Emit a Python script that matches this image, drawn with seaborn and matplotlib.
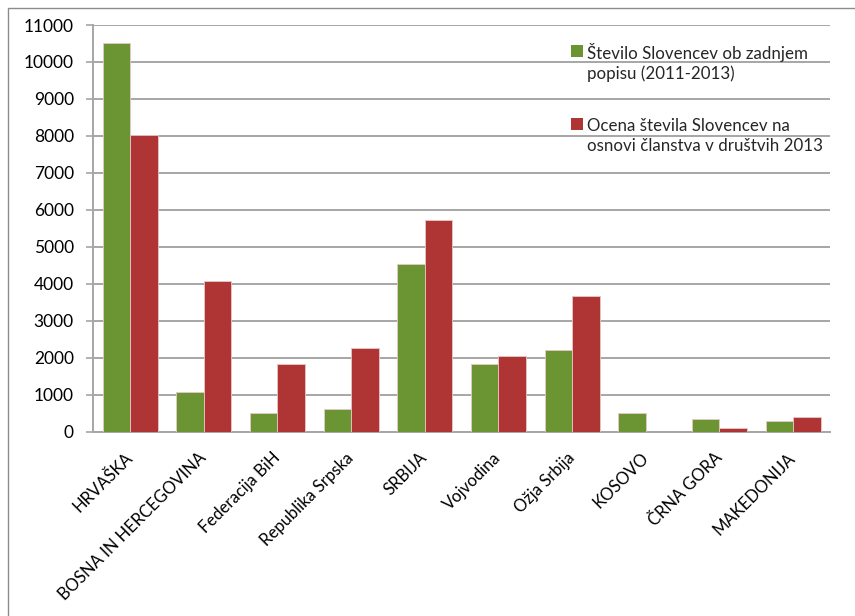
import matplotlib
matplotlib.use("Agg")
import matplotlib.pyplot as plt
from matplotlib.patches import Patch, Rectangle
from matplotlib.legend_handler import HandlerPatch
import seaborn as sns
import pandas as pd

categories = ["HRVAŠKA", "BOSNA IN HERCEGOVINA", "Federacija BiH", "Republika Srpska",
              "SRBIJA", "Vojvodina", "Ožja Srbija", "KOSOVO", "ČRNA GORA", "MAKEDONIJA"]
popis = [10500, 1080, 500, 605, 4530, 1820, 2210, 500, 345, 300]
ocena = [8030, 4085, 1825, 2265, 5720, 2050, 3665, 0, 90, 400]
series_names = ["Število Slovencev ob zadnjem\npopisu (2011-2013)",
                "Ocena števila Slovencev na\nosnovi članstva v društvih 2013"]
y_ticks = list(range(0, 11001, 1000))

colors = ["#6B9532", "#AF3434"]
grid_gray = "#A6A6A6"

sns.set_theme(style="white")
plt.rcParams["font.family"] = ["Lato", "DejaVu Sans"]

df = pd.DataFrame({
    "kraj": categories * 2,
    "vrednost": popis + ocena,
    "serija": [series_names[0]] * len(categories) + [series_names[1]] * len(categories),
})

W, H = 855, 616
fig = plt.figure(figsize=(W / 100, H / 100), dpi=100)
ax = fig.add_axes([93.3 / W, 1 - 431.7 / H, (830 - 93.3) / W, (431.7 - 25) / H])

sns.barplot(data=df, x="kraj", y="vrednost", hue="serija", order=categories,
            hue_order=series_names, palette=colors, width=0.75, dodge=True,
            saturation=1, errorbar=None, ax=ax, edgecolor="#E8C8C8", linewidth=0.6,
            legend=False, zorder=3)

ax.set_xlim(-0.5, len(categories) - 0.5)
ax.set_ylim(0, 11000)
ax.set_yticks(y_ticks)
ax.set_yticklabels([str(v) for v in y_ticks], fontsize=12.5, color="black")
ax.yaxis.grid(True, color=grid_gray, linewidth=1.4, zorder=0)
ax.set_axisbelow(True)
ax.set_xlabel("")
ax.set_ylabel("")

# category labels at centres, tick marks at category boundaries
ax.set_xticks(range(len(categories)))
ax.set_xticklabels(categories, rotation=45, ha="right", va="center",
                   rotation_mode="anchor", fontsize=12, color="black")
ax.tick_params(axis="x", which="major", length=0, pad=17)
ax.set_xticks([i - 0.5 for i in range(len(categories) + 1)], minor=True)
ax.tick_params(axis="x", which="minor", length=5, width=1.2, color=grid_gray, direction="out")
ax.tick_params(axis="y", length=5, width=1.2, color=grid_gray, direction="out", pad=9, left=True)

for side in ["top", "right"]:
    ax.spines[side].set_visible(False)
for side in ["left", "bottom"]:
    ax.spines[side].set_color(grid_gray)
    ax.spines[side].set_linewidth(1.4)


# legend swatch sits beside the first line of a two-line label
LINE_PT = 8.6


def upper_swatch(legend, orig_handle, xdescent, ydescent, width, height, fontsize):
    return Rectangle((-xdescent, -ydescent + LINE_PT), width, height)


handles = [Patch(facecolor=c, edgecolor="none") for c in colors]
leg = ax.legend(handles, series_names, loc="upper left",
                bbox_to_anchor=(571 / W, 1 - 42.5 / H), bbox_transform=fig.transFigure,
                frameon=False, fontsize=12.2, handlelength=0.68, handleheight=0.68,
                handletextpad=0.25, labelspacing=2.1, borderaxespad=0, borderpad=0,
                handler_map={Patch: HandlerPatch(patch_func=upper_swatch)})
for t in leg.get_texts():
    t.set_linespacing(1.3)

# chart frame
fig.patches.append(Rectangle((8 / W, -0.1), 1.2, 1 - 8 / H + 0.1, transform=fig.transFigure,
                             fill=False, edgecolor="#8C8C8C", linewidth=1.0))

fig.savefig("out.png", dpi=100)
